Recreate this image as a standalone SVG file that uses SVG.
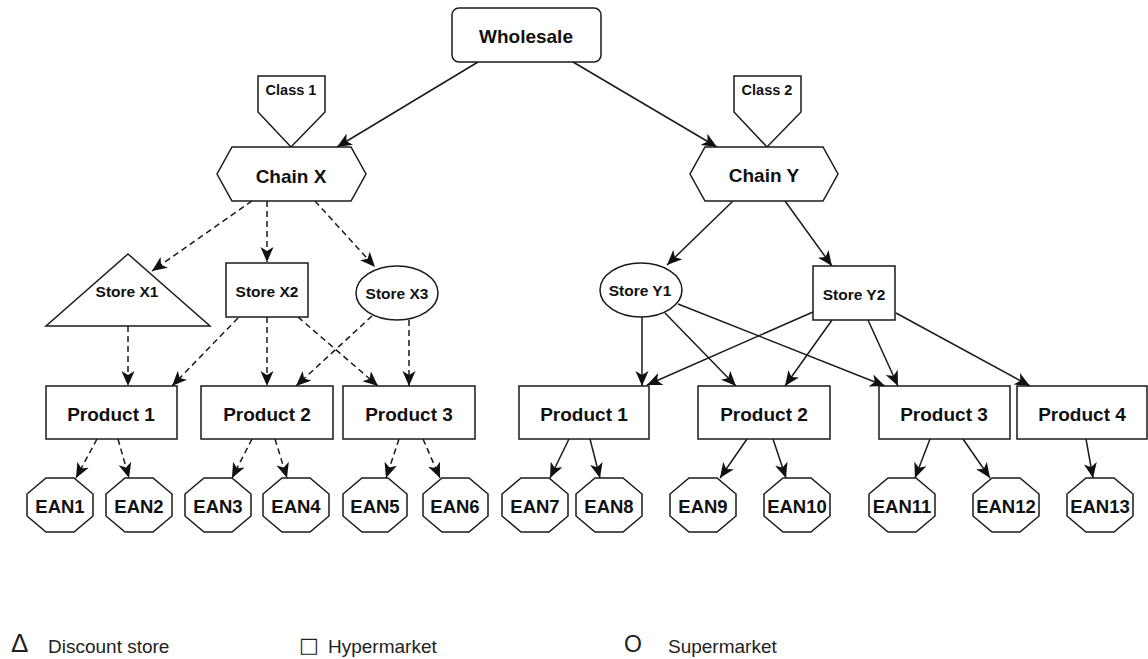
<svg xmlns="http://www.w3.org/2000/svg" width="1148" height="659" viewBox="0 0 1148 659">
<style>
.n{fill:#fff;stroke:#1a1a1a;stroke-width:1.5}
.t{font-family:"Liberation Sans",Arial,sans-serif;font-weight:bold;fill:#111;text-anchor:middle}
.big{font-size:19px}
.st{font-size:15.5px}
.cl{font-size:14.5px}
.ean{font-size:18.5px}
.c{stroke:#1a1a1a;stroke-width:1.5;fill:none;marker-end:url(#ah)}
.d{stroke-dasharray:6 4}
.lg{font-family:"Liberation Sans",Arial,sans-serif;font-size:19px;fill:#222}
</style>
<defs>
<marker id="ah" markerUnits="userSpaceOnUse" markerWidth="16" markerHeight="14" refX="15" refY="7" orient="auto">
<path d="M0,0.5 L15,7 L0,13.5 L4,7 z" fill="#111"/>
</marker>
</defs>
<g id="connectors">
<line class="c" x1="478" y1="62" x2="337" y2="147"/>
<line class="c" x1="573" y1="62" x2="717" y2="147"/>
<line class="c" x1="733" y1="201" x2="667" y2="265"/>
<line class="c" x1="785" y1="201" x2="832" y2="266"/>
<line class="c" x1="642" y1="317" x2="642" y2="386"/>
<line class="c" x1="665" y1="313" x2="736" y2="386"/>
<line class="c" x1="678" y1="304" x2="885" y2="386"/>
<line class="c" x1="813" y1="312" x2="647" y2="385"/>
<line class="c" x1="832" y1="320" x2="785" y2="386"/>
<line class="c" x1="868" y1="320" x2="898" y2="386"/>
<line class="c" x1="896" y1="313" x2="1030" y2="386"/>
<line class="c" x1="569" y1="439" x2="550" y2="478"/>
<line class="c" x1="590" y1="439" x2="600" y2="478"/>
<line class="c" x1="747" y1="439" x2="720" y2="478"/>
<line class="c" x1="773" y1="439" x2="786" y2="478"/>
<line class="c" x1="930" y1="439" x2="915" y2="478"/>
<line class="c" x1="963" y1="439" x2="990" y2="478"/>
<line class="c" x1="1086" y1="439" x2="1093" y2="478"/>
<line class="c d" x1="252" y1="201" x2="152" y2="271"/>
<line class="c d" x1="267" y1="201" x2="267" y2="262"/>
<line class="c d" x1="315" y1="201" x2="375" y2="267"/>
<line class="c d" x1="128" y1="326" x2="128" y2="386"/>
<line class="c d" x1="238" y1="318" x2="172" y2="386"/>
<line class="c d" x1="267" y1="317" x2="267" y2="386"/>
<line class="c d" x1="298" y1="317" x2="378" y2="386"/>
<line class="c d" x1="372" y1="316" x2="296" y2="386"/>
<line class="c d" x1="409" y1="320" x2="409" y2="386"/>
<line class="c d" x1="97" y1="439" x2="76" y2="478"/>
<line class="c d" x1="118" y1="439" x2="129" y2="478"/>
<line class="c d" x1="252" y1="439" x2="232" y2="478"/>
<line class="c d" x1="275" y1="439" x2="287" y2="478"/>
<line class="c d" x1="399" y1="439" x2="386" y2="478"/>
<line class="c d" x1="423" y1="439" x2="440" y2="478"/>
</g>
<g id="wholesale"><rect class="n" x="452" y="8" width="149" height="54" rx="7"/><text class="t big" x="526" y="43">Wholesale</text></g>
<g id="class1"><polygon class="n" points="258,76 325,76 325,112 291,147 258,112"/><text class="t cl" x="291" y="95">Class 1</text></g>
<g id="class2"><polygon class="n" points="734,76 801,76 801,112 767,147 734,112"/><text class="t cl" x="767" y="95">Class 2</text></g>
<g id="chainX"><polygon class="n" points="232,147 351,147 366,174 351,201 232,201 217,174"/><text class="t big" x="291" y="183">Chain X</text></g>
<g id="chainY"><polygon class="n" points="705,147 823,147 838,174 823,201 705,201 690,174"/><text class="t big" x="764" y="182">Chain Y</text></g>
<g id="storeX1"><polygon class="n" points="128,254 210,326 46,326"/><text class="t st" x="127" y="297">Store X1</text></g>
<g id="storeX2"><rect class="n" x="226" y="263" width="82" height="54"/><text class="t st" x="267" y="297">Store X2</text></g>
<g id="storeX3"><ellipse class="n" cx="397" cy="293" rx="41" ry="27"/><text class="t st" x="397" y="299">Store X3</text></g>
<g id="storeY1"><ellipse class="n" cx="641" cy="290" rx="41" ry="27"/><text class="t st" x="640" y="296">Store Y1</text></g>
<g id="storeY2"><rect class="n" x="813" y="266" width="82" height="54"/><text class="t st" x="854" y="300">Store Y2</text></g>
<g id="productX1"><rect class="n" x="46" y="386" width="131" height="53"/><text class="t big" x="111" y="421">Product 1</text></g>
<g id="productX2"><rect class="n" x="201" y="386" width="132" height="53"/><text class="t big" x="267" y="421">Product 2</text></g>
<g id="productX3"><rect class="n" x="343" y="386" width="132" height="53"/><text class="t big" x="409" y="421">Product 3</text></g>
<g id="productY1"><rect class="n" x="519" y="386" width="130" height="53"/><text class="t big" x="584" y="421">Product 1</text></g>
<g id="productY2"><rect class="n" x="698" y="386" width="132" height="53"/><text class="t big" x="764" y="421">Product 2</text></g>
<g id="productY3"><rect class="n" x="879" y="386" width="131" height="53"/><text class="t big" x="944" y="421">Product 3</text></g>
<g id="productY4"><rect class="n" x="1017" y="386" width="130" height="53"/><text class="t big" x="1082" y="421">Product 4</text></g>
<g id="ean1"><polygon class="n" points="46,478 74,478 93,494 93,516 74,532 46,532 27,516 27,494"/><text class="t ean" x="60" y="513">EAN1</text></g>
<g id="ean2"><polygon class="n" points="125,478 153,478 172,494 172,516 153,532 125,532 106,516 106,494"/><text class="t ean" x="139" y="513">EAN2</text></g>
<g id="ean3"><polygon class="n" points="204,478 232,478 251,494 251,516 232,532 204,532 185,516 185,494"/><text class="t ean" x="218" y="513">EAN3</text></g>
<g id="ean4"><polygon class="n" points="282,478 310,478 329,494 329,516 310,532 282,532 263,516 263,494"/><text class="t ean" x="296" y="513">EAN4</text></g>
<g id="ean5"><polygon class="n" points="362,478 388,478 407,494 407,516 388,532 362,532 343,516 343,494"/><text class="t ean" x="375" y="513">EAN5</text></g>
<g id="ean6"><polygon class="n" points="442,478 469,478 488,494 488,516 469,532 442,532 423,516 423,494"/><text class="t ean" x="455" y="513">EAN6</text></g>
<g id="ean7"><polygon class="n" points="521,478 549,478 568,494 568,516 549,532 521,532 502,516 502,494"/><text class="t ean" x="535" y="513">EAN7</text></g>
<g id="ean8"><polygon class="n" points="595,478 623,478 642,494 642,516 623,532 595,532 576,516 576,494"/><text class="t ean" x="609" y="513">EAN8</text></g>
<g id="ean9"><polygon class="n" points="689,478 717,478 736,494 736,516 717,532 689,532 670,516 670,494"/><text class="t ean" x="703" y="513">EAN9</text></g>
<g id="ean10"><polygon class="n" points="783,478 811,478 830,494 830,516 811,532 783,532 764,516 764,494"/><text class="t ean" x="797" y="513">EAN10</text></g>
<g id="ean11"><polygon class="n" points="888,478 916,478 935,494 935,516 916,532 888,532 869,516 869,494"/><text class="t ean" x="902" y="513">EAN11</text></g>
<g id="ean12"><polygon class="n" points="992,478 1020,478 1039,494 1039,516 1020,532 992,532 973,516 973,494"/><text class="t ean" x="1006" y="513">EAN12</text></g>
<g id="ean13"><polygon class="n" points="1086,478 1114,478 1133,494 1133,516 1114,532 1086,532 1067,516 1067,494"/><text class="t ean" x="1100" y="513">EAN13</text></g>
<g id="legend">
<text class="lg" x="11" y="652" style="font-size:26px">Δ</text>
<text class="lg" x="48" y="653">Discount store</text>
<text x="299" y="652" style="font-family:'DejaVu Sans',sans-serif;font-size:21px;fill:#222">□</text>
<text class="lg" x="328" y="653">Hypermarket</text>
<text class="lg" x="624" y="652" style="font-size:23px">O</text>
<text class="lg" x="668" y="653">Supermarket</text>
</g>
</svg>
